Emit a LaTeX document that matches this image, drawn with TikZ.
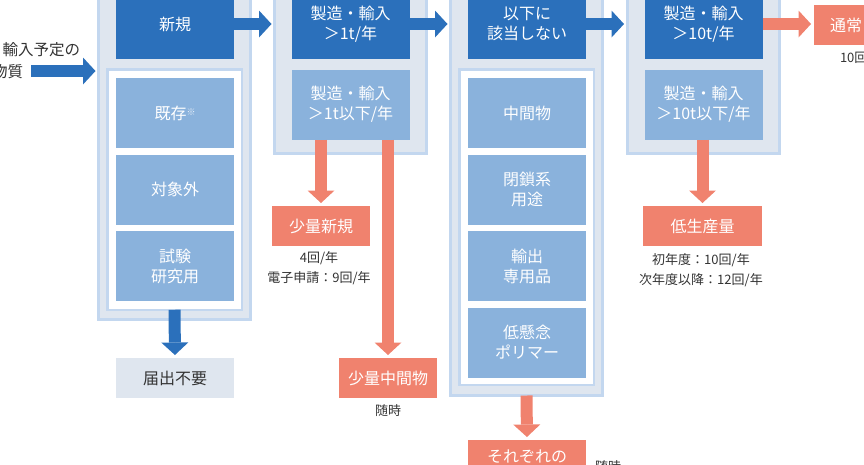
\documentclass[tikz,border=0pt]{standalone}
\usepackage{fontspec}
\setmainfont{Noto Sans CJK JP}
\usetikzlibrary{arrows.meta}
\definecolor{dblue}{HTML}{2B70BB}
\definecolor{lblue}{HTML}{8AB2DC}
\definecolor{pale}{HTML}{DFE6EF}
\definecolor{edgeblue}{HTML}{C3D7EF}
\definecolor{salmon}{HTML}{F0826E}
\definecolor{ink}{HTML}{333333}
\definecolor{starc}{HTML}{E6EEF8}
\begin{document}
\begin{tikzpicture}[x=1pt,y=-1pt,
  every node/.style={inner sep=0pt, outer sep=0pt},
  outerbox/.style={rectangle, draw=edgeblue, line width=3pt, fill=pale, minimum width=152},
  innerframe/.style={rectangle, draw=edgeblue, line width=2.5pt, fill=white, minimum width=134.5},
  boxtext/.style={align=center, font=\fontsize{16}{20}\selectfont},
  darkbox/.style={rectangle, fill=dblue, text=white, minimum width=118, minimum height=70, boxtext},
  lightbox/.style={rectangle, fill=lblue, text=white, minimum width=118, minimum height=70, boxtext},
  resbox/.style={rectangle, fill=salmon, text=white, minimum height=40, boxtext},
  graybox/.style={rectangle, fill=pale, text=ink, minimum height=40, boxtext},
  note/.style={text=ink, align=center, font=\fontsize{13}{20}\selectfont},
  barrow/.style={draw=dblue, line width=12pt, -{Triangle[length=12.5pt,width=27pt,line width=0pt]}, shorten >=3pt},
  sarrow/.style={draw=salmon, line width=12pt, -{Triangle[length=12.5pt,width=27pt,line width=0pt]}, shorten >=3pt}
]
\useasboundingbox (0,0) rectangle (864,464);
\clip (0,0) rectangle (864,464);

% left input text
\node[text=ink, anchor=east, font=\fontsize{15.5}{20}\selectfont] (in1) at (80,50) {輸入予定の};
\node[text=ink, anchor=east, font=\fontsize{15.5}{20}\selectfont] (in2) at (23,72) {物質};

% column 1
\node[outerbox, minimum height=338] (c1) at (174.5,150.5) {};
\node[innerframe, minimum height=240.5] (i1) at (174.5,189.5) {};
\node[darkbox] (n1) at (175,24) {新規};
\node[lightbox] (k1) at (175,113) {既存{\fontsize{9}{9}\selectfont\raisebox{4pt}{\color{starc}※}}};
\node[lightbox] (t1) at (175,189.5) {対象外};
\node[lightbox] (s1) at (175,266) {試験\\研究用};

% column 2
\node[outerbox, minimum height=172] (c2) at (350.5,67.5) {};
\node[darkbox] (b2) at (350.5,24) {製造・輸入\\＞1t/年};
\node[lightbox] (l2) at (350.5,104.5) {製造・輸入\\＞1t以下/年};

% column 3
\node[outerbox, minimum height=414] (c3) at (526.5,188.5) {};
\node[innerframe, minimum height=315.5] (i3) at (526.5,227) {};
\node[darkbox] (b3) at (527,24) {以下に\\該当しない};
\node[lightbox] (m3) at (527,113) {中間物};
\node[lightbox] (h3) at (527,189.5) {閉鎖系\\用途};
\node[lightbox] (e3) at (527,266) {輸出\\専用品};
\node[lightbox] (p3) at (527,342.5) {低懸念\\ポリマー};

% column 4
\node[outerbox, minimum height=172] (c4) at (703,67.5) {};
\node[darkbox] (b4) at (703.5,24) {製造・輸入\\＞10t/年};
\node[lightbox] (l4) at (703.5,104.5) {製造・輸入\\＞10t以下/年};

% result boxes
\node[graybox, minimum width=118] (todoke) at (175,378) {届出不要};
\node[resbox, minimum width=98] (shoshin) at (321,226) {少量新規};
\node[resbox, minimum width=98] (shochu) at (388,378) {少量中間物};
\node[resbox, minimum width=119] (teisei) at (702.5,226) {低生産量};
\node[resbox, minimum width=98] (tsujo) at (863,25) {};
\node[text=white, anchor=west, font=\fontsize{16}{20}\selectfont] (tsujoT) at (830,25) {通常};
\node[resbox, minimum width=118, minimum height=60] (sore) at (527,470) {};
\node[text=white, font=\fontsize{16}{20}\selectfont] (soreT) at (527,457) {それぞれの};

% notes
\node[note] (nshoshin) at (319,268) {4回/年\\電子申請：9回/年};
\node[note] (nshochu) at (388,411) {随時};
\node[note] (nteisei) at (701,270) {初年度：10回/年\\次年度以降：12回/年};
\node[note, anchor=west] (ntsujo) at (840,58) {10回};
\node[note, anchor=west] (nsore) at (595,467) {随時};

% arrows
\coordinate (inA) at (31,71);
\draw[barrow] (inA) -- (inA -| c1.west);
\draw[barrow] (n1.east) -- (n1.east -| c2.west);
\draw[barrow] (b2.east) -- (b2.east -| c3.west);
\draw[barrow] (b3.east) -- (b3.east -| c4.west);
\draw[sarrow] (b4.east) -- (b4.east -| tsujo.west);
\draw[barrow] (i1.south) -- (todoke.north);
\draw[sarrow] (l2.south -| shoshin) -- (shoshin.north);
\draw[sarrow] (l2.south -| shochu) -- (shochu.north);
\draw[sarrow] (c3.south) -- (sore.north);
\draw[sarrow] (l4.south -| teisei) -- (teisei.north);
\end{tikzpicture}
\end{document}
